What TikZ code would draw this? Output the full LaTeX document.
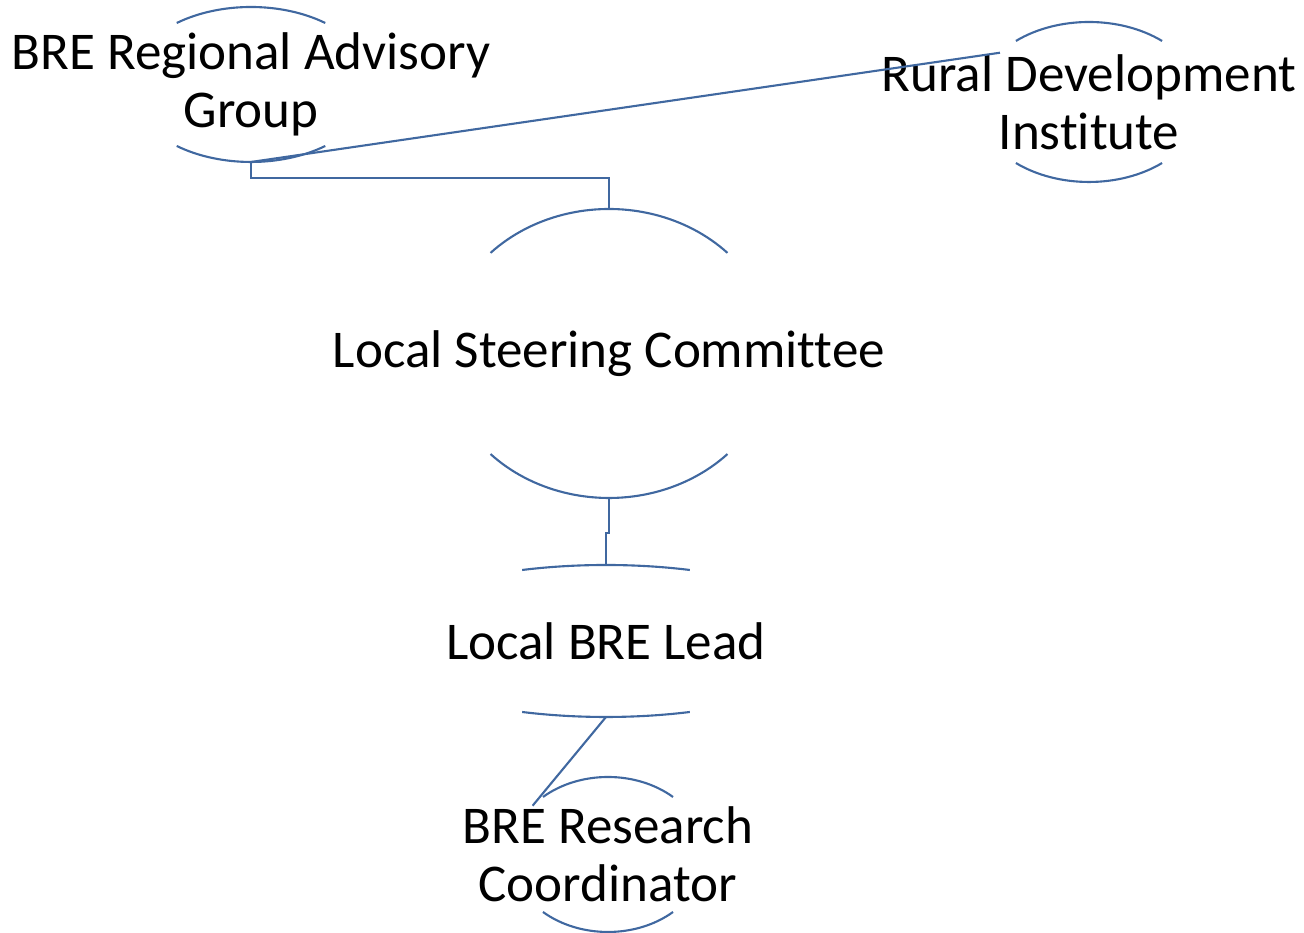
\documentclass[tikz,border=0pt]{standalone}
\usepackage{fontspec}
\setmainfont{Carlito}[Ligatures=NoCommon]
\usetikzlibrary{calc}
\definecolor{edge}{HTML}{4068A0}

% top and bottom rims of an oval round a node, plus its north/south points
\newcommand{\ovalrims}[4]{%
  \draw[rim] ([shift={(#4:#2 and #3)}]#1.center) arc[start angle=#4,end angle=180-#4,x radius=#2,y radius=#3];
  \draw[rim] ([shift={(180+#4:#2 and #3)}]#1.center) arc[start angle=180+#4,end angle=360-#4,x radius=#2,y radius=#3];
  \coordinate (#1-n) at ([yshift=#3]#1.center);
  \coordinate (#1-s) at ([yshift=-#3]#1.center);
}

\begin{document}
\begin{tikzpicture}[
  unit/.style={font=\fontsize{15.1}{16.6}\selectfont,align=center,inner sep=0pt},
  rim/.style={draw=edge,line width=0.6pt},
  link/.style={draw=edge,line width=0.6pt}
]
\useasboundingbox (0,0) rectangle (13.04,9.33);
\node[unit] (reg) at (2.51,8.485) {BRE Regional Advisory\\Group};
\node[unit] (rdi) at (10.89,8.31) {Rural Development\\Institute};
\node[unit] (lsc) at (6.09,5.795) {Local Steering Committee};
\node[unit] (lead) at (6.06,2.92) {Local BRE Lead};
\node[unit] (coord) at (6.08,0.785) {BRE Research\\Coordinator};
\ovalrims{reg}{1.22cm}{0.775cm}{52.5}
\ovalrims{rdi}{1.13cm}{0.8cm}{49.7}
\ovalrims{lsc}{1.65cm}{1.445cm}{44.1}
\ovalrims{lead}{2.35cm}{0.76cm}{69.1}
\ovalrims{coord}{0.97cm}{0.775cm}{47.9}
\coordinate (rdi-a) at ([shift={(142:1.13cm and 0.8cm)}]rdi.center);
\coordinate (coord-a) at ([shift={(141:0.97cm and 0.775cm)}]coord.center);
\draw[link] (reg-s) -- (rdi-a);
\draw[link] (reg-s) -- ++(0,-0.16) -| (lsc-n);
\draw[link] (lsc-s) -- ++(0,-0.35) -| (lead-n);
\draw[link] (lead-s) -- (coord-a);
\end{tikzpicture}
\end{document}
